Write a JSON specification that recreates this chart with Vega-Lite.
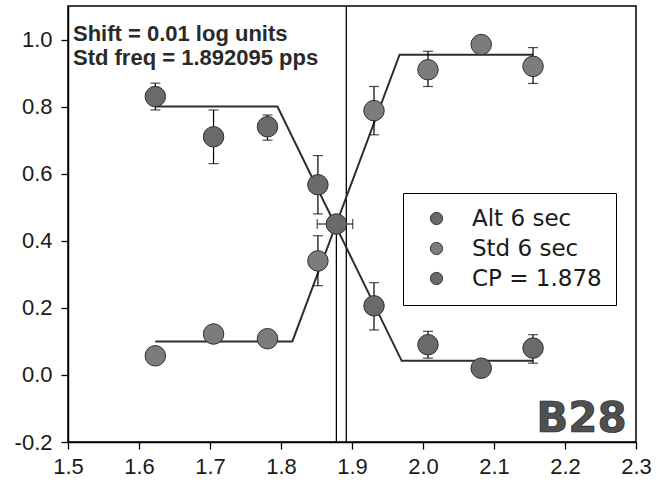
{
  "$schema": "https://vega.github.io/schema/vega-lite/v6.json",
  "width": 568,
  "height": 436,
  "autosize": {"type": "none"},
  "padding": {"left": 68, "top": 6, "right": 29, "bottom": 42},
  "background": "white",
  "config": {
    "view": {"stroke": "black", "strokeWidth": 1.5},
    "axis": {
      "grid": false,
      "title": null,
      "domainColor": "black",
      "domainWidth": 1.5,
      "tickColor": "black",
      "tickWidth": 1.3,
      "labelFont": "Liberation Sans",
      "labelFontSize": 22,
      "labelColor": "#1a1a1a",
      "labelOverlap": false,
      "labelFlush": false
    },
    "legend": {
      "labelFont": "DejaVu Sans",
      "labelFontSize": 23,
      "labelColor": "#1a1a1a"
    }
  },
  "datasets": {
    "points": [
      {"series": "Alt 6 sec", "x": 1.623, "y": 0.83, "lo": 0.79, "hi": 0.87},
      {"series": "Alt 6 sec", "x": 1.705, "y": 0.71, "lo": 0.63, "hi": 0.79},
      {"series": "Alt 6 sec", "x": 1.781, "y": 0.74, "lo": 0.70, "hi": 0.775},
      {"series": "Alt 6 sec", "x": 1.852, "y": 0.567, "lo": 0.48, "hi": 0.654},
      {"series": "Alt 6 sec", "x": 1.931, "y": 0.206, "lo": 0.134, "hi": 0.275},
      {"series": "Alt 6 sec", "x": 2.007, "y": 0.09, "lo": 0.05, "hi": 0.13},
      {"series": "Alt 6 sec", "x": 2.082, "y": 0.02, "lo": null, "hi": null},
      {"series": "Alt 6 sec", "x": 2.155, "y": 0.08, "lo": 0.035, "hi": 0.12},
      {"series": "Std 6 sec", "x": 1.623, "y": 0.057, "lo": null, "hi": null},
      {"series": "Std 6 sec", "x": 1.705, "y": 0.122, "lo": null, "hi": null},
      {"series": "Std 6 sec", "x": 1.781, "y": 0.108, "lo": null, "hi": null},
      {"series": "Std 6 sec", "x": 1.852, "y": 0.34, "lo": 0.266, "hi": 0.415},
      {"series": "Std 6 sec", "x": 1.931, "y": 0.788, "lo": 0.716, "hi": 0.86},
      {"series": "Std 6 sec", "x": 2.007, "y": 0.91, "lo": 0.86, "hi": 0.965},
      {"series": "Std 6 sec", "x": 2.082, "y": 0.985, "lo": null, "hi": null},
      {"series": "Std 6 sec", "x": 2.155, "y": 0.92, "lo": 0.869, "hi": 0.976},
      {"series": "CP = 1.878", "x": 1.878, "y": 0.45, "lo": null, "hi": null}
    ],
    "cp": [
      {"series": "CP = 1.878", "y": 0.45, "xlo": 1.851, "xhi": 1.901}
    ],
    "fits": [
      {"series": "Alt 6 sec", "x": 1.623, "y": 0.80},
      {"series": "Alt 6 sec", "x": 1.795, "y": 0.80},
      {"series": "Alt 6 sec", "x": 1.970, "y": 0.042},
      {"series": "Alt 6 sec", "x": 2.155, "y": 0.042},
      {"series": "Std 6 sec", "x": 1.623, "y": 0.10},
      {"series": "Std 6 sec", "x": 1.816, "y": 0.10},
      {"series": "Std 6 sec", "x": 1.967, "y": 0.955},
      {"series": "Std 6 sec", "x": 2.155, "y": 0.955}
    ],
    "refs": [
      {"name": "Std freq", "x": 1.892, "from": -0.2, "to": 1.1},
      {"name": "CP", "x": 1.878, "from": -0.2, "to": 0.45}
    ],
    "notes": [
      {"x": 1.507, "y": 0.995, "text": "Shift = 0.01 log units"},
      {"x": 1.507, "y": 0.924, "text": "Std freq = 1.892095 pps"}
    ],
    "tag": [
      {"x": 2.287, "y": -0.17, "text": "B28"}
    ]
  },
  "layer": [
    {
      "data": {"name": "refs"},
      "mark": {"type": "rule", "color": "black", "strokeWidth": 1.3},
      "encoding": {
        "x": {
          "field": "x", "type": "quantitative",
          "scale": {"domain": [1.5, 2.3], "nice": false, "zero": false},
          "axis": {
            "title": null,
            "values": [1.5, 1.55, 1.6, 1.65, 1.7, 1.75, 1.8, 1.85, 1.9, 1.95, 2.0, 2.05, 2.1, 2.15, 2.2, 2.25, 2.3],
            "labelExpr": "abs(datum.value * 10 - round(datum.value * 10)) > 0.25 ? '' : format(datum.value, '.1f')",
            "tickSize": {"condition": {"test": "abs(datum.value * 10 - round(datum.value * 10)) > 0.25", "value": 4}, "value": 7},
            "labelPadding": 7
          }
        },
        "y": {
          "field": "from", "type": "quantitative",
          "scale": {"domain": [-0.2, 1.1], "nice": false, "zero": false},
          "axis": {
            "title": null,
            "values": [-0.2, -0.1, 0, 0.1, 0.2, 0.3, 0.4, 0.5, 0.6, 0.7, 0.8, 0.9, 1.0],
            "labelExpr": "abs(round(datum.value * 10)) % 2 == 1 ? '' : replace(format(datum.value, '.1f'), '\u2212', '-')",
            "tickSize": {"condition": {"test": "abs(round(datum.value * 10)) % 2 == 1", "value": 4}, "value": 7},
            "labelPadding": 9
          }
        },
        "y2": {"field": "to"}
      }
    },
    {
      "data": {"name": "fits"},
      "mark": {"type": "line", "color": "#2e2e2e", "strokeWidth": 2},
      "encoding": {
        "x": {"field": "x", "type": "quantitative", "title": null, "scale": {"domain": [1.5, 2.3], "nice": false, "zero": false}},
        "y": {"field": "y", "type": "quantitative", "title": null, "scale": {"domain": [-0.2, 1.1], "nice": false, "zero": false}},
        "detail": {"field": "series"}
      }
    },
    {
      "data": {"name": "points"},
      "transform": [{"filter": "datum.lo != null"}],
      "mark": {"type": "errorbar", "color": "black", "thickness": 1.2, "size": 10, "ticks": true},
      "encoding": {
        "x": {"field": "x", "type": "quantitative", "title": null, "scale": {"domain": [1.5, 2.3], "nice": false, "zero": false}},
        "y": {"field": "lo", "type": "quantitative", "title": null, "scale": {"domain": [-0.2, 1.1], "nice": false, "zero": false}},
        "y2": {"field": "hi"}
      }
    },
    {
      "data": {"name": "cp"},
      "mark": {"type": "errorbar", "color": "black", "thickness": 1.2, "size": 10, "ticks": true},
      "encoding": {
        "x": {"field": "xlo", "type": "quantitative", "title": null, "scale": {"domain": [1.5, 2.3], "nice": false, "zero": false}},
        "x2": {"field": "xhi"},
        "y": {"field": "y", "type": "quantitative", "title": null, "scale": {"domain": [-0.2, 1.1], "nice": false, "zero": false}}
      }
    },
    {
      "data": {"name": "points"},
      "mark": {"type": "point", "filled": true, "size": 420, "stroke": "#2e2e2e", "strokeWidth": 1, "opacity": 1},
      "encoding": {
        "x": {"field": "x", "type": "quantitative", "title": null, "scale": {"domain": [1.5, 2.3], "nice": false, "zero": false}},
        "y": {"field": "y", "type": "quantitative", "title": null, "scale": {"domain": [-0.2, 1.1], "nice": false, "zero": false}},
        "color": {
          "field": "series", "type": "nominal",
          "scale": {"domain": ["Alt 6 sec", "Std 6 sec", "CP = 1.878"], "range": ["#6a6a6a", "#7c7c7c", "#6a6a6a"]},
          "legend": {
            "title": null,
            "orient": "none",
            "legendX": 335,
            "legendY": 187,
            "strokeColor": "black",
            "fillColor": "white",
            "padding": 14,
            "symbolType": "circle",
            "symbolSize": 150,
            "symbolStrokeColor": "#333333",
            "symbolStrokeWidth": 1,
            "symbolOffset": 8,
            "labelOffset": 24,
            "rowPadding": 6
          }
        }
      }
    },
    {
      "data": {"name": "notes"},
      "mark": {"type": "text", "align": "left", "baseline": "alphabetic", "font": "Liberation Sans", "fontWeight": "bold", "fontSize": 22, "color": "#2a2a2a"},
      "encoding": {
        "x": {"field": "x", "type": "quantitative", "title": null, "scale": {"domain": [1.5, 2.3], "nice": false, "zero": false}},
        "y": {"field": "y", "type": "quantitative", "title": null, "scale": {"domain": [-0.2, 1.1], "nice": false, "zero": false}},
        "text": {"field": "text"}
      }
    },
    {
      "data": {"name": "tag"},
      "mark": {"type": "text", "align": "right", "baseline": "alphabetic", "font": "DejaVu Sans", "fontWeight": "bold", "fontSize": 42, "color": "#505050", "stroke": "#222222", "strokeWidth": 0.7},
      "encoding": {
        "x": {"field": "x", "type": "quantitative", "title": null, "scale": {"domain": [1.5, 2.3], "nice": false, "zero": false}},
        "y": {"field": "y", "type": "quantitative", "title": null, "scale": {"domain": [-0.2, 1.1], "nice": false, "zero": false}},
        "text": {"field": "text"}
      }
    }
  ]
}
